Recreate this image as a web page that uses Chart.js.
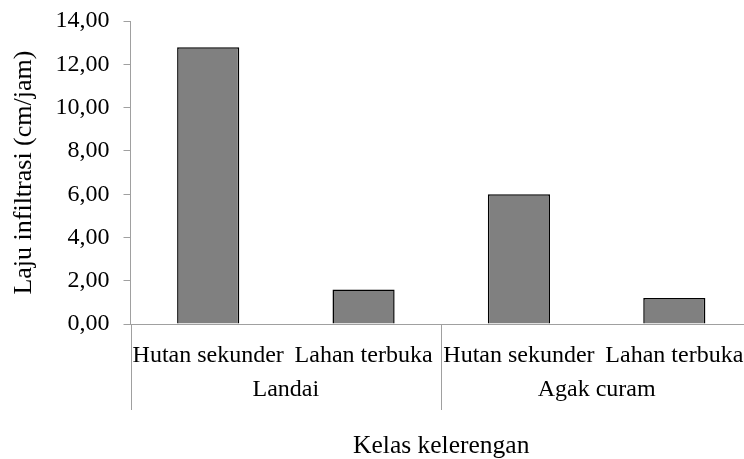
<!DOCTYPE html>
<html>
<head>
<meta charset="utf-8">
<script src="https://cdn.jsdelivr.net/npm/chart.js@4/dist/chart.umd.min.js"></script>
<style>
  html, body { margin: 0; padding: 0; background: #fff; overflow: hidden; }
  #wrap { width: 744px; height: 459px; overflow: hidden; }
</style>
</head>
<body>
<div id="wrap"><canvas id="chart" width="760" height="459"></canvas></div>
<script>
// === DATA ===
const subCategories = ['Hutan sekunder', 'Lahan terbuka', 'Hutan sekunder', 'Lahan terbuka'];
const groups        = ['Landai', 'Agak curam'];
const groupSize     = 2;
const infiltration  = [12.8, 1.6, 6.0, 1.2];
const yTicks        = { min: 0, max: 14, step: 2 };

const FONT      = 'Liberation Serif, Times New Roman, serif';
const AXIS_GRAY = '#a0a0a0';

// group labels + separators under the category axis
const groupAxisPlugin = {
    id: 'groupAxis',
    afterDraw(chart) {
        const x   = chart.scales.x;
        const ctx = chart.ctx;
        const half = (x.getPixelForValue(1) - x.getPixelForValue(0)) / 2;

        ctx.save();
        ctx.strokeStyle = AXIS_GRAY;
        ctx.lineWidth   = 1;
        for (let i = 0; i <= subCategories.length; i += groupSize) {
            const px = Math.round(x.getPixelForValue(i) - half) + 0.5;
            ctx.beginPath();
            ctx.moveTo(px, x.top);
            ctx.lineTo(px, x.top + 86);
            ctx.stroke();
        }

        ctx.fillStyle    = '#000';
        ctx.font         = `24px ${FONT}`;
        ctx.textAlign    = 'center';
        ctx.textBaseline = 'alphabetic';
        groups.forEach((g, gi) => {
            const first = gi * groupSize;
            const last  = first + groupSize - 1;
            const cx = (x.getPixelForValue(first) + x.getPixelForValue(last)) / 2;
            ctx.fillText(g, cx, x.top + 72);
        });
        ctx.restore();
    },
};

new Chart(document.getElementById('chart').getContext('2d'), {
    type: 'bar',
    data: {
        labels: subCategories,
        datasets: [{
            data:               infiltration,
            backgroundColor:    '#808080',
            borderColor:        '#000000',
            borderWidth:        1.5,
            barPercentage:      0.4,
            categoryPercentage: 1,
        }],
    },
    options: {
        responsive: false,
        animation:  false,
        layout: { padding: { top: 20, right: 8, left: 0, bottom: 0 } },
        plugins: { legend: { display: false }, tooltip: { enabled: false } },
        scales: {
            x: {
                afterFit: s => { s.height = 135; },
                grid:   { display: false },
                border: { display: true, color: AXIS_GRAY, width: 1 },
                ticks:  { color: '#000', font: { family: FONT, size: 24 }, padding: 9, maxRotation: 0, autoSkip: false },
                title:  {
                    display: true,
                    text:    'Kelas kelerengan',
                    color:   '#000',
                    font:    { family: FONT, size: 25.5 },
                    padding: { top: 0, bottom: -3 },
                },
            },
            y: {
                min: yTicks.min,
                max: yTicks.max,
                afterFit: s => { s.width = 130.5; },
                grid:   { drawOnChartArea: false, drawTicks: true, tickLength: 7, color: AXIS_GRAY },
                border: { display: true, color: AXIS_GRAY, width: 1 },
                ticks:  {
                    stepSize: yTicks.step,
                    color:    '#000',
                    padding:  14,
                    font:     { family: FONT, size: 24, lineHeight: 0.6 },
                    callback: v => v.toFixed(2).replace('.', ','),
                },
                title: {
                    display: true,
                    text:    'Laju infiltrasi (cm/jam)',
                    color:   '#000',
                    font:    { family: FONT, size: 26 },
                    padding: { top: 9, bottom: 0 },
                },
            },
        },
    },
    plugins: [groupAxisPlugin],
});
</script>
</body>
</html>
